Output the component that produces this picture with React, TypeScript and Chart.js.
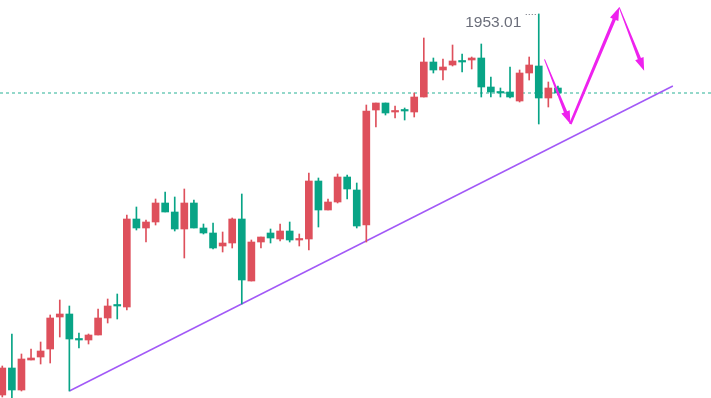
import React, { useEffect, useRef } from 'react';
import { Chart, registerables } from 'chart.js';

Chart.register(...registerables);

// OHLC per candle (index 0..58)
const opens = [
  1838.7, 1846.8, 1840.2, 1849.2, 1850.1, 1852.5, 1862.1, 1863.0, 1855.5, 1855.2,
  1856.7, 1861.8, 1865.7, 1865.1, 1891.5, 1888.8, 1890.6, 1896.3, 1893.6, 1888.5,
  1896.3, 1888.8, 1887.3, 1883.4, 1884.3, 1891.5, 1872.9, 1884.6, 1887.3, 1885.5,
  1887.9, 1885.2, 1885.5, 1902.9, 1894.2, 1896.6, 1904.1, 1900.2, 1889.7, 1924.2,
  1926.3, 1923.6, 1924.2, 1923.6, 1928.1, 1938.6, 1936.2, 1937.7, 1938.9, 1939.2,
  1939.8, 1931.1, 1929.6, 1929.6, 1926.9, 1935.3, 1937.4, 1927.8, 1930.8,
];
const highs = [
  1847.4, 1857.0, 1851.0, 1852.5, 1854.6, 1862.7, 1867.2, 1865.4, 1857.3, 1857.0,
  1864.5, 1867.5, 1869.0, 1892.7, 1895.1, 1891.2, 1897.5, 1899.6, 1898.1, 1900.5,
  1897.2, 1890.0, 1890.3, 1887.6, 1891.8, 1899.0, 1885.2, 1886.1, 1888.5, 1890.0,
  1890.6, 1887.0, 1905.3, 1903.8, 1897.5, 1905.0, 1904.7, 1902.3, 1925.7, 1926.3,
  1926.3, 1925.4, 1924.8, 1929.3, 1945.8, 1939.8, 1939.5, 1943.7, 1941.0, 1940.1,
  1944.0, 1934.1, 1930.8, 1937.1, 1936.2, 1940.1, 1953.01, 1932.6, 1931.4,
];
const lows = [
  1838.1, 1837.8, 1839.9, 1849.2, 1848.0, 1848.3, 1856.1, 1839.9, 1852.8, 1854.0,
  1856.7, 1860.3, 1861.5, 1864.2, 1888.2, 1884.6, 1889.7, 1893.6, 1887.9, 1879.8,
  1888.8, 1887.0, 1882.5, 1881.6, 1882.8, 1866.0, 1872.9, 1882.8, 1884.3, 1884.9,
  1884.6, 1883.4, 1882.2, 1889.1, 1894.2, 1896.3, 1897.5, 1888.8, 1884.6, 1919.1,
  1922.7, 1921.8, 1921.2, 1922.1, 1928.1, 1935.3, 1933.2, 1937.4, 1935.6, 1936.5,
  1928.1, 1928.1, 1928.1, 1927.8, 1926.6, 1933.2, 1920.0, 1925.1, 1928.7,
];
const closes = [
  1846.8, 1840.2, 1849.5, 1849.8, 1851.9, 1861.8, 1863.0, 1855.5, 1855.2, 1856.7,
  1861.8, 1865.4, 1865.4, 1891.5, 1888.8, 1890.6, 1896.3, 1893.6, 1888.5, 1896.3,
  1888.8, 1887.3, 1882.8, 1884.3, 1891.5, 1873.2, 1884.6, 1886.1, 1885.8, 1887.9,
  1885.2, 1885.5, 1902.9, 1894.2, 1896.6, 1904.1, 1900.5, 1889.4, 1923.9, 1926.3,
  1923.3, 1923.9, 1923.9, 1928.1, 1938.6, 1936.2, 1937.1, 1938.9, 1938.6, 1939.8,
  1931.1, 1929.6, 1929.3, 1928.1, 1935.3, 1937.7, 1927.8, 1930.8, 1929.3,
];

// support trendline (candle index, price)
const trendIdx = [7, 70];
const trendPrice = [1839.9, 1931.4];

// projected zigzag path (candle index, price)
const pathIdx = [56.6, 59.3, 64.4, 67.0];
const pathPrice = [1939.4, 1920.0, 1955.0, 1936.0];

const X_MIN = -0.24;
const X_MAX = 73.98;
const Y_MIN = 1837.8;
const Y_MAX = 1957.2;

const UP = 'rgb(222,80,92)';
const DOWN = 'rgb(8,164,134)';

function drawArrow(ctx: CanvasRenderingContext2D, x0: number, y0: number, x1: number, y1: number, w0: number) {
  const dx = x1 - x0, dy = y1 - y0;
  const len = Math.hypot(dx, dy);
  const ux = dx / len, uy = dy / len;
  const nx = -uy, ny = ux;
  const hl = 13, hw = 4.5, w1 = 1.7;
  const bx = x1 - ux * hl, by = y1 - uy * hl;
  ctx.beginPath();
  ctx.moveTo(x0 + nx * w0, y0 + ny * w0);
  ctx.lineTo(bx + nx * w1, by + ny * w1);
  ctx.lineTo(bx + nx * hw, by + ny * hw);
  ctx.lineTo(x1, y1);
  ctx.lineTo(bx - nx * hw, by - ny * hw);
  ctx.lineTo(bx - nx * w1, by - ny * w1);
  ctx.lineTo(x0 - nx * w0, y0 - ny * w0);
  ctx.closePath();
  ctx.fill();
}

const overlay = {
  id: 'overlay',
  afterDatasetsDraw(chart: any) {
    const { ctx, scales } = chart;
    const x = scales.x, y = scales.y;
    let mi = 0;
    highs.forEach((h, i) => { if (h > highs[mi]) mi = i; });
    const hx = x.getPixelForValue(mi);
    const hy = y.getPixelForValue(highs[mi]);
    ctx.save();
    ctx.strokeStyle = '#6b6e7a';
    ctx.lineWidth = 1;
    ctx.setLineDash([1, 2]);
    ctx.beginPath();
    ctx.moveTo(hx - 13, Math.round(hy) + 0.5);
    ctx.lineTo(hx - 1, Math.round(hy) + 0.5);
    ctx.stroke();
    ctx.setLineDash([]);
    ctx.fillStyle = '#6b6e7a';
    ctx.font = '15.5px "Liberation Sans", Arial, sans-serif';
    ctx.textAlign = 'right';
    ctx.textBaseline = 'alphabetic';
    ctx.fillText(highs[mi].toFixed(2), hx - 17.5, hy + 13);

    ctx.fillStyle = '#ee22ee';
    const widths = [0.5, 1.3, 0.5];
    for (let i = 0; i < pathIdx.length - 1; i++) {
      drawArrow(
        ctx,
        x.getPixelForValue(pathIdx[i]), y.getPixelForValue(pathPrice[i]),
        x.getPixelForValue(pathIdx[i + 1]), y.getPixelForValue(pathPrice[i + 1]),
        widths[i]
      );
    }
    ctx.restore();
  },
};

export default function App() {
  const ref = useRef<HTMLCanvasElement>(null);
  useEffect(() => {
    const colors = closes.map((c, i) => (c >= opens[i] ? UP : DOWN));
    const last = closes[closes.length - 1];
    const chart = new Chart(ref.current as HTMLCanvasElement, {
      type: 'bar',
      data: {
        datasets: [
          {
            type: 'bar',
            data: opens.map((o, i) => ({ x: i, y: [o, closes[i]] })) as any,
            backgroundColor: colors,
            barThickness: 7,
            minBarLength: 1.5,
            grouped: false,
            borderWidth: 0,
          } as any,
          {
            type: 'bar',
            data: lows.map((l, i) => ({ x: i, y: [l, highs[i]] })) as any,
            backgroundColor: colors,
            barThickness: 1,
            grouped: false,
            borderWidth: 0,
          } as any,
          {
            type: 'line',
            data: trendIdx.map((t, i) => ({ x: t, y: trendPrice[i] })) as any,
            borderColor: '#a259f7',
            borderWidth: 1.5,
            pointRadius: 0,
            fill: false,
          } as any,
          {
            type: 'line',
            data: [{ x: X_MIN, y: last }, { x: X_MAX, y: last }] as any,
            borderColor: 'rgb(40,178,150)',
            borderWidth: 1,
            borderDash: [3, 3],
            pointRadius: 0,
            fill: false,
          } as any,
        ],
      },
      options: {
        responsive: false,
        maintainAspectRatio: false,
        animation: false,
        layout: { padding: 0 },
        plugins: { legend: { display: false }, tooltip: { enabled: false } },
        scales: {
          x: { type: 'linear', display: false, min: X_MIN, max: X_MAX, offset: false },
          y: { type: 'linear', display: false, min: Y_MIN, max: Y_MAX },
        },
      } as any,
      plugins: [overlay],
    });
    return () => chart.destroy();
  }, []);
  return (
    <div style={{ position: 'absolute', left: 0, top: 0, width: 711, height: 398, background: '#fff' }}>
      <canvas ref={ref} width={711} height={398} style={{ display: 'block' }} />
    </div>
  );
}
